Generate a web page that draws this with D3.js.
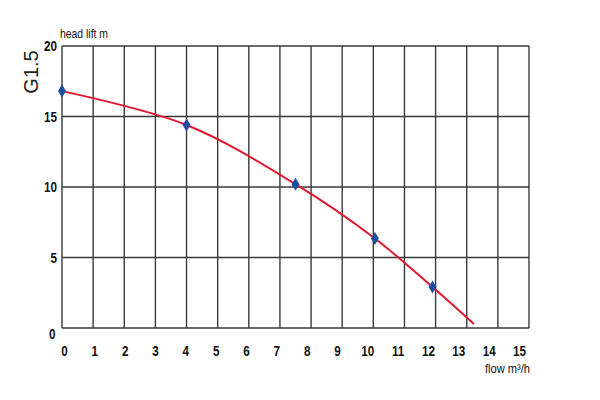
<!DOCTYPE html>
<html>
<head>
<meta charset="utf-8">
<script src="https://cdn.jsdelivr.net/npm/d3@7"></script>
<style>
  body { margin: 0; background: #fff; }
  text { font-family: "Liberation Sans Narrow", "Liberation Sans", Arial, sans-serif; }
</style>
</head>
<body>
<div id="chart"></div>
<script>
// pump curve G1.5
const flowTicks = d3.range(0, 16);       // 0..15 m3/h
const headTicks = [0, 5, 10, 15, 20];    // m
const curveFlow = [0, 4, 7.5, 10.05, 11.9, 13.23];
const curveHead = [16.8, 14.4, 10.2, 6.35, 2.9, 0.28];
const markFlow = [0, 4, 7.5, 10.05, 11.9];
const markHead = [16.8, 14.4, 10.2, 6.35, 2.9];

const width = 600, height = 400;
const margin = {top: 46, right: 71, bottom: 72, left: 62};

const svg = d3.select('#chart').append('svg').attr('width', width).attr('height', height);

const x = d3.scaleLinear().domain([0, 15]).range([margin.left, width - margin.right]);
const y = d3.scaleLinear().domain([0, 20]).range([height - margin.bottom, margin.top]);
// tick labels in the original sit a bit tighter than the grid
const xLab = d3.scaleLinear().domain([0, 15]).range([margin.left + 2, width - margin.right - 10]);

const grid = svg.append('g').attr('stroke', '#3a3a3a').attr('stroke-width', 1.4);
grid.selectAll('line.v').data(flowTicks).enter().append('line')
  .attr('x1', d => x(d)).attr('x2', d => x(d))
  .attr('y1', y(20)).attr('y2', y(0));
grid.selectAll('line.h').data(headTicks).enter().append('line')
  .attr('x1', x(0)).attr('x2', x(15))
  .attr('y1', d => y(d)).attr('y2', d => y(d));

// x labels
const xAxis = d3.axisBottom(xLab).tickValues(flowTicks).tickSize(0).tickPadding(0);
const gx = svg.append('g').attr('transform', 'translate(0,' + (y(0) + 28) + ')').call(xAxis);
gx.select('.domain').remove();
gx.selectAll('text').attr('font-size', 15).attr('font-weight', 'bold').attr('fill', '#111')
  .attr('dy', 0).attr('transform', 'scale(0.78,1)')
  .style('font-family', '"Liberation Sans", Arial, sans-serif');

// y labels
const yAxis = d3.axisLeft(y).tickValues(headTicks).tickSize(0).tickPadding(0);
const gy = svg.append('g').attr('transform', 'translate(' + (margin.left - 5) + ',0)').call(yAxis);
gy.select('.domain').remove();
gy.selectAll('text').attr('font-size', 15).attr('font-weight', 'bold').attr('fill', '#111')
  .attr('dy', d => d === 0 ? '0.7em' : '0.32em')
  .attr('dx', d => d === 0 ? -2 : 0)
  .attr('transform', 'scale(0.78,1)')
  .style('font-family', '"Liberation Sans", Arial, sans-serif');

// curve
const pts = curveFlow.map((f, i) => [f, curveHead[i]]);
const line = d3.line().x(d => x(d[0])).y(d => y(d[1])).curve(d3.curveCatmullRom);
svg.append('path').datum(pts).attr('d', line)
  .attr('fill', 'none').attr('stroke', '#e0182d').attr('stroke-width', 2);

// markers
const marks = markFlow.map((f, i) => [f, markHead[i]]);
svg.selectAll('path.mk').data(marks).enter().append('path')
  .attr('class', 'mk')
  .attr('d', 'M0,-6.5L4,0L0,6.5L-4,0Z')
  .attr('transform', d => 'translate(' + x(d[0]) + ',' + y(d[1]) + ')')
  .attr('fill', '#1d4f9e');

// labels
svg.append('text').attr('x', margin.left - 2).attr('y', 38)
  .attr('font-size', 13).attr('fill', '#111')
  .attr('textLength', 48).attr('lengthAdjust', 'spacingAndGlyphs').text('head lift m');
svg.append('text').attr('x', 485).attr('y', 373)
  .attr('font-size', 13).attr('fill', '#111')
  .attr('textLength', 45).attr('lengthAdjust', 'spacingAndGlyphs').text('flow m³/h');
svg.append('text').attr('transform', 'translate(38,72) rotate(-90)')
  .attr('text-anchor', 'middle').attr('font-size', 20).attr('fill', '#222')
  .style('font-family', '"Liberation Sans", Arial, sans-serif').text('G1.5');
</script>
</body>
</html>
